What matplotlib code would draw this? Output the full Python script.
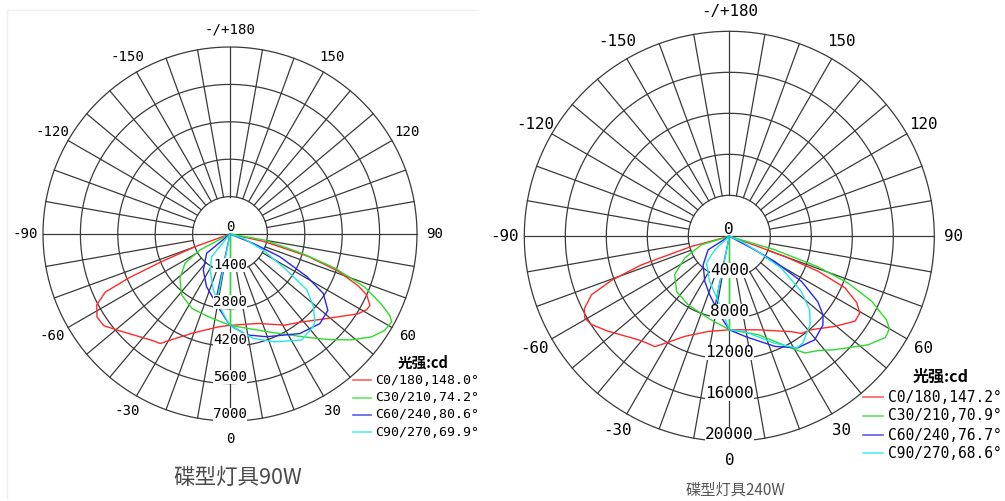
import numpy as np
import matplotlib
matplotlib.use("Agg")
import matplotlib.pyplot as plt
from matplotlib.lines import Line2D

W, H, DPI = 1005, 501, 100

# ---------------- data ----------------
# gamma: angle from nadir in degrees (negative = C180..C270 side), intensity in cd
series_names_90 = ["C0/180,148.0°", "C30/210,74.2°", "C60/240,80.6°", "C90/270,69.9°"]
series_names_240 = ["C0/180,147.2°", "C30/210,70.9°", "C60/240,76.7°", "C90/270,68.6°"]

rings_90 = [1400, 2800, 4200, 5600, 7000]
rings_240 = [4000, 8000, 12000, 16000, 20000]

angle_ticks = [0, 30, 60, 90, 120, 150, 180, -150, -120, -90, -60, -30]
angle_labels = ["0", "30", "60", "90", "120", "150", "-/+180", "-150", "-120", "-90", "-60", "-30"]

# 90W lamp
c0_gamma_90 = [-73, -70, -68, -66.5, -65, -62, -58, -54, -49, -36, -32.5, -29, -21, -7, 0,
               17.5, 31, 39, 48, 58, 61, 63, 66, 68, 71, 74, 77.5, 80]
c0_cd_90 = [0, 1390, 2760, 4150, 5150, 5650, 5870, 5840, 5510, 4930, 4860, 4530, 3980, 3500, 3420,
            3510, 3980, 4240, 4750, 5640, 5850, 5880, 5600, 5170, 4290, 3050, 1340, 0]
c30_gamma_90 = [-65, -62, -57, -48.5, -38.5, -27, -14.5, 0, 21, 35, 41, 44, 49, 54, 58, 61.5,
                63, 65, 68.5, 72, 75, 80, 83]
c30_cd_90 = [0, 1270, 2010, 2500, 2910, 3130, 3200, 3420, 3920, 4690, 5200, 5500, 6040, 6550, 6820, 6890,
             6710, 6270, 5420, 4140, 2780, 1330, 0]
c60_gamma_90 = [-55, -50.5, -36.5, -24, -7.5, 0, 9.5, 19.5, 35, 45, 52, 57.5, 61, 65.5, 68, 71]
c60_cd_90 = [0, 1130, 1680, 2160, 2870, 3420, 3830, 4080, 4550, 4750, 4650, 4140, 3290, 2050, 940, 0]
c90_gamma_90 = [-45, -39, -29, -16.5, -5, 0, 12.5, 22.5, 34, 42, 44, 49, 54, 57.5, 64, 72, 74]
c90_cd_90 = [0, 1090, 1540, 2190, 2980, 3420, 4000, 4370, 4790, 4660, 4570, 4140, 3560, 2520, 1380, 520, 0]
# single radial strokes from the centre
spoke_gamma_90 = [0, -12, -11]
spoke_cd_90 = [3420, 2700, 2590]

# 240W lamp
c0_gamma_240 = [-77, -75, -72, -69.5, -67, -63.5, -60.5, -57.5, -52, -41.5, -38, -34, -31, -24, -12.5, 0,
                17, 33, 36.5, 41.5, 49.5, 56, 59.5, 62.5, 66, 68.5, 70, 70.5, 72]
c0_cd_240 = [0, 3820, 9000, 12250, 14600, 15800, 16200, 15980, 15030, 13460, 13180, 12980, 12180, 10690, 9510, 9120,
             9540, 11090, 11790, 12150, 13540, 14800, 14770, 14020, 12350, 9320, 5770, 2990, 0]
c30_gamma_240 = [-76, -73, -64, -55, -43.5, -31, -14.5, 0, 16.5, 29, 33, 38, 43, 52, 57, 60, 62,
                 65.5, 68.5, 71, 73.5, 75]
c30_cd_240 = [0, 2840, 4840, 6510, 7450, 7800, 8240, 9120, 10010, 12480, 13570, 14140, 15120, 17190, 18140, 18040, 17370,
              15260, 12460, 9150, 4630, 0]
c60_gamma_240 = [-60, -57.5, -42.5, -28.5, -18.5, -7, 0, 9, 22.5, 31.5, 39.5, 46.5, 50, 53.5, 58, 61, 62, 64]
c60_cd_240 = [0, 2450, 3780, 5010, 6020, 7720, 9120, 9890, 11630, 12760, 13090, 12590, 11930, 10750, 8310, 5070, 2450, 0]
c90_gamma_240 = [-50, -47, -40.5, -23.5, -9.5, 0, 9, 23, 31, 34.5, 42.5, 47.5, 52.5, 58.5, 62, 67, 69]
c90_cd_240 = [0, 1930, 3430, 4800, 6460, 9120, 9410, 11330, 12720, 12660, 11670, 10630, 8870, 5960, 3180, 1300, 0]
spoke_gamma_240 = [0, -11.5, -11.5]
spoke_cd_240 = [9120, 7020, 6250]

COLORS = ["#ff2a2a", "#2cdc2c", "#2626ee", "#1fe8e8"]
GRID = "#3a3a3a"
MONO = ["DejaVu Sans Mono"]
CJK = ["Noto Sans CJK SC", "DejaVu Sans"]

fig = plt.figure(figsize=(W / DPI, H / DPI), dpi=DPI)
fig.patch.set_facecolor("white")


def fx(x):
    return x / W


def fy(y):
    return 1 - y / H


def pt(px):
    return px * 72.0 / DPI


def polar_panel(cx, cy, R, rings, curves, spokes, names, fs, lab_fs, legend):
    rmax = rings[-1]
    ax = fig.add_axes([(cx - R) / W, (H - cy - R) / H, 2 * R / W, 2 * R / H], projection="polar")
    ax.set_theta_zero_location("S")
    ax.set_theta_direction(1)
    ax.set_ylim(0, rmax)
    ax.set_axis_off()

    # rings and radial grid
    th = np.linspace(0, 2 * np.pi, 721)
    for r in rings:
        ax.plot(th, np.full_like(th, r), color=GRID, lw=0.9, zorder=1, clip_on=False)
    for deg in range(0, 360, 10):
        t = np.deg2rad(deg)
        start = 0 if deg in (0, 90, 270) else rings[0]
        ax.plot([t, t], [start, rmax], color=GRID, lw=0.9, zorder=1, clip_on=False)

    # intensity curves
    for (g, v), c in zip(curves, COLORS):
        ax.plot(np.deg2rad(g), v, color=c, lw=1.0, zorder=3, clip_on=False)
    sg, sv = spokes
    spoke_cols = [COLORS[1], COLORS[2], COLORS[3]]
    for g, v, c in zip(sg, sv, spoke_cols):
        ax.plot([np.deg2rad(g)] * 2, [0, v], color=c, lw=1.0, zorder=3)

    # ring value labels along the nadir
    ax.annotate("0", xy=(0, 0), xytext=(0, pt(7)), textcoords="offset points",
                ha="center", va="center", fontsize=lab_fs, family=MONO, zorder=4)
    for r in rings:
        ax.annotate(f"{r}", xy=(0, r), xytext=(0, pt(6.5)), textcoords="offset points",
                    ha="center", va="center", fontsize=lab_fs, family=MONO, zorder=4,
                    bbox=dict(boxstyle="square,pad=0.0", fc="white", ec="none"))

    # angle labels
    for deg, lab in zip(angle_ticks, angle_labels):
        ax.text(np.deg2rad(deg), rmax * 1.095, lab, ha="center", va="center",
                fontsize=fs, family=MONO, clip_on=False)

    # legend
    hx, hy, lx0, lx1, tx, ys, lfs, hfs = legend
    fig.text(fx(hx), fy(hy), "光强:cd", ha="left", va="center", fontsize=hfs,
             fontweight="bold", family=CJK)
    for name, c, y in zip(names, COLORS, ys):
        fig.add_artist(Line2D([fx(lx0), fx(lx1)], [fy(y), fy(y)], color=c, lw=1.2, alpha=0.75))
        fig.text(fx(tx), fy(y), name, ha="left", va="center", fontsize=lfs, family=MONO)
    return ax


polar_panel(230, 234, 187, rings_90,
            [(c0_gamma_90, c0_cd_90), (c30_gamma_90, c30_cd_90),
             (c60_gamma_90, c60_cd_90), (c90_gamma_90, c90_cd_90)],
            (spoke_gamma_90, spoke_cd_90), series_names_90,
            fs=10.2, lab_fs=10.2,
            legend=(398, 363, 353, 371, 375, [380, 397.5, 415, 432], 9.5, 10.5))

polar_panel(729.3, 236.3, 205, rings_240,
            [(c0_gamma_240, c0_cd_240), (c30_gamma_240, c30_cd_240),
             (c60_gamma_240, c60_cd_240), (c90_gamma_240, c90_cd_240)],
            (spoke_gamma_240, spoke_cd_240), series_names_240,
            fs=11.4, lab_fs=11.6,
            legend=(913, 377, 863, 883, 888, [397, 416, 435, 453], 10.5, 11.5))

# panel captions
fig.text(fx(237.5), fy(478), "碟型灯具90W", ha="center", va="center",
         fontsize=15.5, color="#4a4a4a", family=CJK)
fig.text(fx(735), fy(490), "碟型灯具240W", ha="center", va="center",
         fontsize=11, color="#555555", family=CJK)

# faint border around the left panel
fig.add_artist(Line2D([fx(7), fx(478)], [fy(10), fy(10)], color="#efefef", lw=1))
fig.add_artist(Line2D([fx(7), fx(7)], [fy(10), fy(498)], color="#efefef", lw=1))

fig.savefig("out.png", dpi=DPI, facecolor="white")
